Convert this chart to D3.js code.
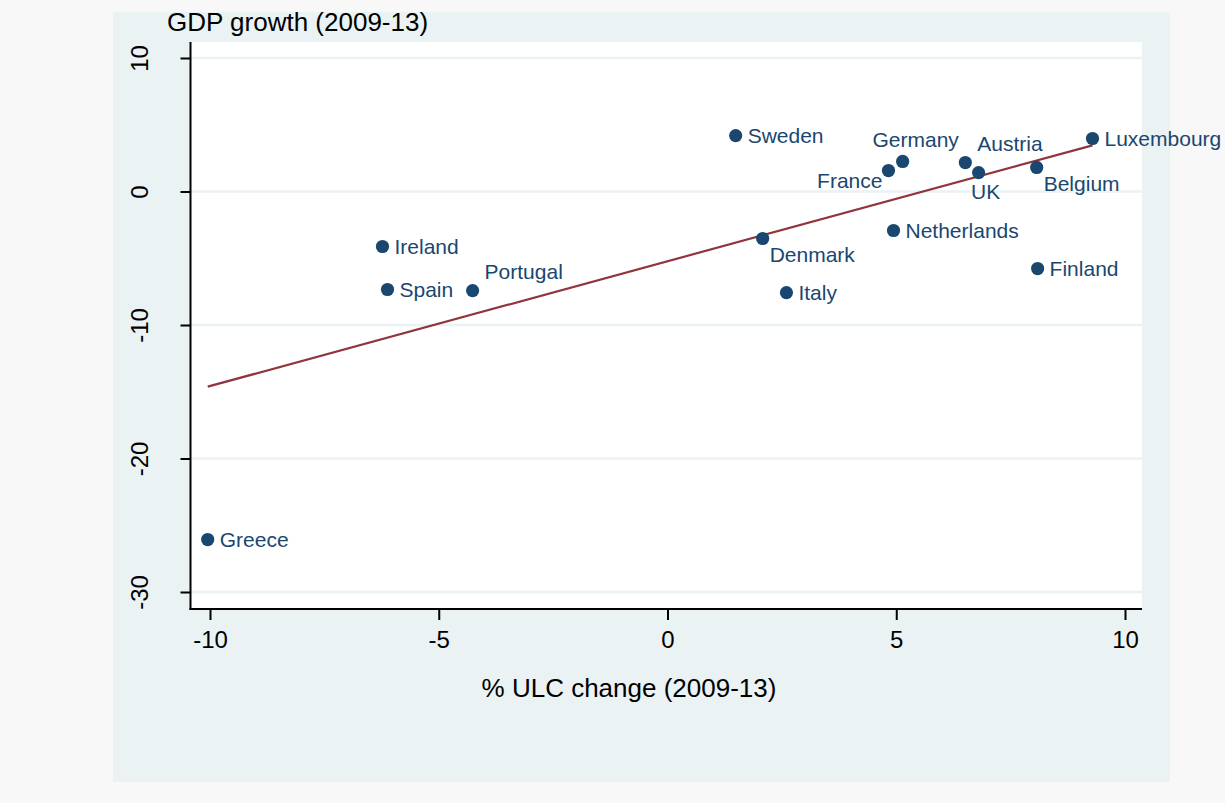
<!DOCTYPE html>
<html><head><meta charset="utf-8">
<script src="https://cdn.jsdelivr.net/npm/d3@7"></script>
<style>html,body{margin:0;padding:0;background:#f8f8f8;}svg{display:block;font-family:"Liberation Sans",Arial,Helvetica,sans-serif;}</style>
</head><body>
<svg id="chart" width="1225" height="803"></svg>
<script>
const countries = ["Greece","Ireland","Spain","Portugal","Sweden","Denmark","Italy","France","Germany","Netherlands","Austria","UK","Belgium","Finland","Luxembourg"];
const ulcChange = [-10.05,-6.23,-6.12,-4.26,1.49,2.08,2.60,4.83,5.14,4.94,6.51,6.80,8.07,8.09,9.29];
const gdpGrowth = [-26.07,-4.12,-7.34,-7.42,4.19,-3.52,-7.57,1.57,2.25,-2.92,2.17,1.42,1.80,-5.77,3.97];
// label clock positions (Stata mlabvposition style)
const labelPos = [3,3,3,1,3,4,3,9,12,3,1,6,4,3,3];
const xTicks = [-10,-5,0,5,10];
const yTicks = [10,0,-10,-20,-30];
const xTitle = "% ULC change (2009-13)";
const yTitle = "GDP growth (2009-13)";

const svg = d3.select("#chart");
const W = 1225, H = 803;
const region = {x0:113, y0:12, x1:1170, y1:782};
const plot = {l:190.5, r:1142, t:42, b:609};

svg.append("rect").attr("width",W).attr("height",H).attr("fill","#f8f8f8");
svg.append("rect").attr("x",region.x0).attr("y",region.y0)
  .attr("width",region.x1-region.x0).attr("height",region.y1-region.y0).attr("fill","#eaf2f3");
svg.append("rect").attr("x",plot.l).attr("y",plot.t)
  .attr("width",plot.r-plot.l).attr("height",plot.b-plot.t).attr("fill","#ffffff");

const x = d3.scaleLinear().domain([-10,10]).range([210,1125]);
const y = d3.scaleLinear().domain([-30,10]).range([592,58]);
const fmt = d => String(d);

// gridlines
svg.append("g").selectAll("line").data(yTicks).join("line")
  .attr("x1",plot.l).attr("x2",plot.r).attr("y1",d=>y(d)).attr("y2",d=>y(d))
  .attr("stroke","#eaf2f3").attr("stroke-width",2.5);

// axes
const xAxis = d3.axisBottom(x).tickValues(xTicks).tickSize(11).tickPadding(11).tickFormat(fmt);
const gx = svg.append("g").attr("transform",`translate(0,${plot.b})`).call(xAxis);
gx.select(".domain").remove();
gx.selectAll(".tick line").attr("stroke","#000").attr("stroke-width",2);
gx.selectAll(".tick text").attr("font-size",24).attr("fill","#000").attr("font-family","Liberation Sans, Arial, sans-serif");
svg.append("line").attr("x1",plot.l-1).attr("x2",plot.r).attr("y1",plot.b).attr("y2",plot.b).attr("stroke","#000").attr("stroke-width",2);

const yAxis = d3.axisLeft(y).tickValues(yTicks).tickSize(10).tickFormat(fmt);
const gy = svg.append("g").attr("transform",`translate(${plot.l},0)`).call(yAxis);
gy.select(".domain").remove();
gy.selectAll(".tick line").attr("stroke","#000").attr("stroke-width",2);
gy.selectAll(".tick text").attr("font-size",24).attr("fill","#000")
  .attr("font-family","Liberation Sans, Arial, sans-serif")
  .attr("text-anchor","middle").attr("x",0).attr("dy",0)
  .attr("transform","translate(-43,0) rotate(-90)");
svg.append("line").attr("x1",plot.l).attr("x2",plot.l).attr("y1",plot.t).attr("y2",plot.b+1).attr("stroke","#000").attr("stroke-width",2);

// titles
svg.append("text").attr("x",629).attr("y",697).attr("text-anchor","middle")
  .attr("font-size",26).attr("fill","#000").text(xTitle);
svg.append("text").attr("x",167).attr("y",31).attr("font-size",26).attr("fill","#000").text(yTitle);

// linear fit
const n = ulcChange.length;
const mx = d3.mean(ulcChange), my = d3.mean(gdpGrowth);
let sxy=0,sxx=0;
for(let i=0;i<n;i++){sxy+=(ulcChange[i]-mx)*(gdpGrowth[i]-my);sxx+=(ulcChange[i]-mx)**2;}
const b = sxy/sxx, a = my-b*mx;
const [xmin,xmax] = d3.extent(ulcChange);
svg.append("line").attr("x1",x(xmin)).attr("x2",x(xmax)).attr("y1",y(a+b*xmin)).attr("y2",y(a+b*xmax))
  .attr("stroke","#90353b").attr("stroke-width",2.2);

// points
const data = countries.map((c,i)=>({c, x:ulcChange[i], y:gdpGrowth[i], p:labelPos[i]}));
svg.append("g").selectAll("circle").data(data).join("circle")
  .attr("cx",d=>x(d.x)).attr("cy",d=>y(d.y)).attr("r",6.6).attr("fill","#1a476f");

// labels
const off = 12;
function lab(d){
  const px=x(d.x), py=y(d.y);
  switch(d.p){
    case 3: return {x:px+off,y:py,a:"start",dy:"0.35em"};
    case 9: return {x:px-off+6,y:py+10,a:"end",dy:"0.35em"};
    case 12: return {x:px+13,y:py-22,a:"middle",dy:"0.35em"};
    case 1: return {x:px+12,y:py-19,a:"start",dy:"0.35em"};
    case 6: return {x:px+7,y:py+19,a:"middle",dy:"0.35em"};
    case 4: return {x:px+7,y:py+16,a:"start",dy:"0.35em"};
  }
}
svg.append("g").selectAll("text").data(data).join("text")
  .each(function(d){const L=lab(d);d3.select(this).attr("x",L.x).attr("y",L.y).attr("text-anchor",L.a).attr("dy",L.dy);})
  .attr("font-size",21).attr("fill","#1a476f").text(d=>d.c);
</script>
</body></html>
